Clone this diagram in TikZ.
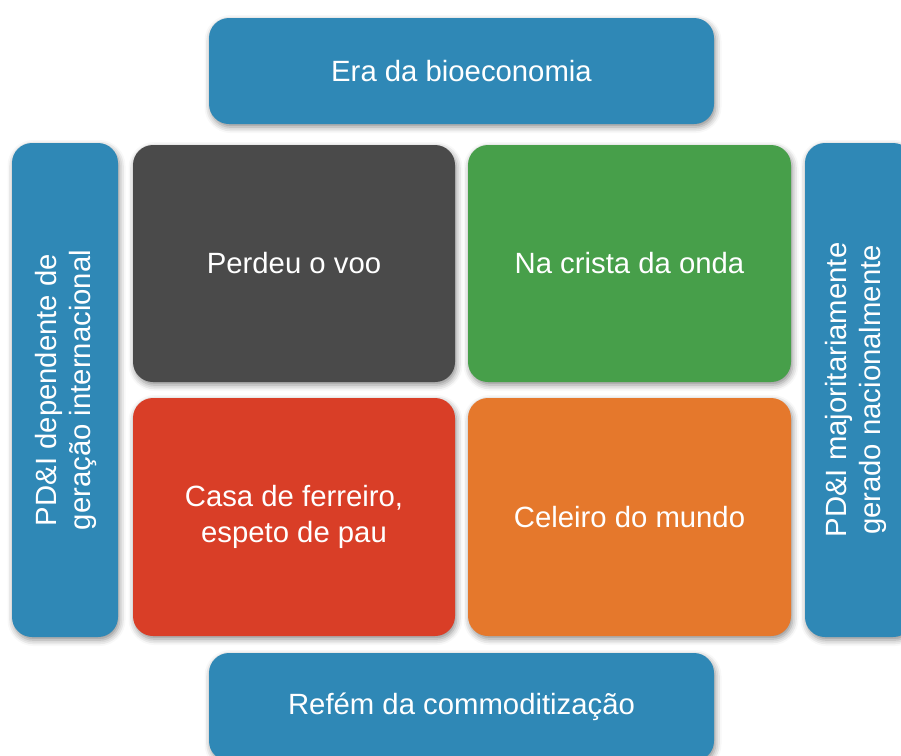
\documentclass[tikz,border=0pt]{standalone}
\usepackage{fontspec}
\setmainfont{Liberation Sans}
\usetikzlibrary{shadows.blur}
\definecolor{cblue}{HTML}{2F88B6}
\definecolor{cdark}{HTML}{4A4A4A}
\definecolor{cgreen}{HTML}{479F4A}
\definecolor{cred}{HTML}{D93E27}
\definecolor{corange}{HTML}{E5782C}
\tikzset{
  tile/.style={rectangle, rounded corners=20pt, inner sep=0pt, align=center,
    text=white, font=\fontsize{29.3}{36}\selectfont,
    blur shadow={shadow xshift=1.5pt, shadow yshift=-3pt, shadow blur radius=6pt, shadow opacity=45}},
  sidetext/.style={text=white, font=\fontsize{29.3}{34}\selectfont, align=center, rotate=90, inner sep=0pt},
}
\begin{document}
\begin{tikzpicture}[x=1pt,y=-1pt]
\useasboundingbox (0,0) rectangle (901,755);
\clip (0,0) rectangle (901,755);
% top / bottom
\node[tile, fill=cblue, minimum width=505pt, minimum height=106pt] (top) at (461.5,71) {Era da bioeconomia};
\node[tile, fill=cblue, minimum width=505pt, minimum height=108pt] (bot) at (461.5,707) {Refém da commoditização};
% sides
\node[tile, fill=cblue, minimum width=106pt, minimum height=494pt] (left) at (65,390) {};
\node[tile, fill=cblue, minimum width=108pt, minimum height=494pt] (right) at (859,390) {};
\node[sidetext] (lefttxt) at (65.5,390) {PD\&I dependente de\\geração internacional};
\node[sidetext] (righttxt) at (856,390) {PD\&I majoritariamente\\gerado nacionalmente};
% quadrants
\node[tile, fill=cdark, minimum width=322pt, minimum height=237pt] (q1) at (294,263.5) {Perdeu o voo};
\node[tile, fill=cgreen, minimum width=323pt, minimum height=237pt] (q2) at (629.5,263.5) {Na crista da onda};
\node[tile, fill=cred, minimum width=322pt, minimum height=238pt] (q3) at (294,517) {Casa de ferreiro,\\espeto de pau};
\node[tile, fill=corange, minimum width=323pt, minimum height=238pt] (q4) at (629.5,517) {Celeiro do mundo};
\end{tikzpicture}
\end{document}
